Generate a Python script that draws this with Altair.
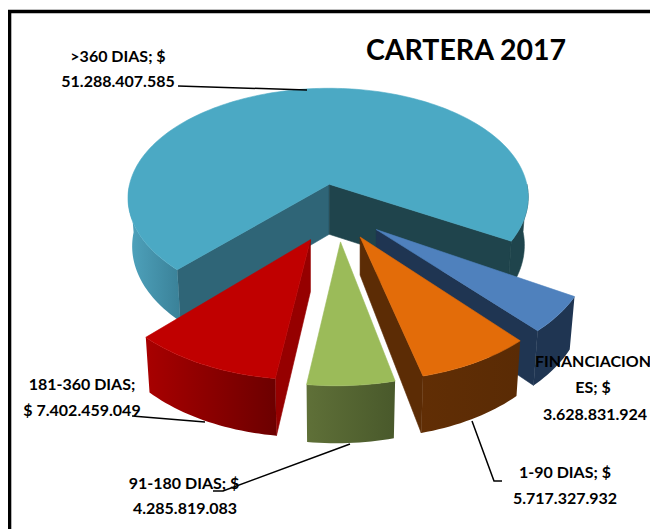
import math
import altair as alt
import pandas as pd

# ---- data ----
CATEGORIES = [">360 DIAS", "FINANCIACIONES", "1-90 DIAS", "91-180 DIAS", "181-360 DIAS"]
VALUES = [51288407585, 3628831924, 5717327932, 4285819083, 7402459049]
TITLE = "CARTERA 2017"
LABEL_LINES = [
    [">360 DIAS;  $", "51.288.407.585"],
    ["FINANCIACION", "ES;  $", "3.628.831.924"],
    ["1-90 DIAS;  $", "5.717.327.932"],
    ["91-180 DIAS;  $", "4.285.819.083"],
    ["181-360 DIAS;", "$ 7.402.459.049"],
]

# ---- layout and style ----
W, H_PAGE = 650, 529
FONT = "Lato"
START = 134.0           # where the first slice starts (degrees, clockwise on screen)
EXPLODE = 0.27
CX, CY, RX, RY, K, DEPTH = 337.0, 215.0, 205.0, 114.7, 0.116, 49.0
# small per-slice corrections of the perspective model (screen pixels)
RIM_SHIFT = [(-1, 0), (-3, 0), (-3, 0), (-4.5, 0), (-4, -2)]
APEX_SHIFT = [(0, -1), (-5, -5), (-4, -6), (0, -5), (-2, -4)]
APEX_DEPTH = [50, 50, 38, 50, 52]
TOP = ["#4ba9c4", "#4f81bd", "#e36c09", "#9bbb59", "#c00000"]
SIDE = ["#2f6577", "#1f3552", "#5c2c05", "#5f7038", "#960000"]
SIDE_R = ["#1f444c", "#1f3552", "#5c2c05", "#5f7038", "#960000"]
OUTER = [("#4fa3bd", "#3a8198"), ("#1f3552", "#1f3552"), ("#612e05", "#5a2b05"),
         ("#5f7038", "#49592b"), ("#a80000", "#6c0000")]
LABEL_POS = [
    [(118, 62), (118, 87)],
    [(593, 367), (593, 393), (595, 420)],
    [(565, 478), (565, 504)],
    [(184, 489), (185, 514)],
    [(82, 390), (82, 416)],
]
LEADERS = [
    [(178, 86), (307, 90)],
    [(472, 421), (494, 481), (502, 481)],
    [(213, 491), (223, 491), (350, 444)],
    [(132, 416), (205, 422)],
]
FRAME = [(9.5, 529), (9.5, 11.5), (650, 11.5)]

xs = alt.X("x:Q", scale=alt.Scale(domain=[8, W]), axis=None)
ys = alt.Y("y:Q", scale=alt.Scale(domain=[H_PAGE, 8]), axis=None)


def proj(u, v, low=False, shift=(0, 0)):
    w = 1 - K * v
    x = CX + RX * u / w
    y = CY + RY * v / w
    if low:
        x = CX + (x - CX) * 0.98
        y += DEPTH / w
    return x + shift[0], y + shift[1]


def poly(points, fill, stroke=None):
    pts = list(points) + [points[0]]
    df = pd.DataFrame({"x": [p[0] for p in pts], "y": [p[1] for p in pts], "i": range(len(pts))})
    kw = {"stroke": stroke, "strokeWidth": 0.6} if stroke else {"strokeOpacity": 0, "strokeWidth": 0}
    return alt.Chart(df).mark_line(fill=fill, **kw).encode(x=xs, y=ys, order="i:Q")


def path(points, width=1.5):
    df = pd.DataFrame({"x": [p[0] for p in points], "y": [p[1] for p in points], "i": range(len(points))})
    return alt.Chart(df).mark_line(color="#000000", strokeWidth=width).encode(x=xs, y=ys, order="i:Q")


def hgrad(a, b):
    return alt.Gradient(gradient="linear", x1=0, x2=1, y1=0, y2=0,
                        stops=[alt.GradientStop(color=a, offset=0), alt.GradientStop(color=b, offset=1)])


total = sum(VALUES)
layers = []
angle = START
spans = []
for v in VALUES:
    sweep = 360.0 * v / total
    spans.append((angle, angle + sweep))
    angle += sweep

for idx in range(5):
    t0, t1 = spans[idx]
    mid = math.radians((t0 + t1) / 2)
    ox, oy = EXPLODE * math.cos(mid), EXPLODE * math.sin(mid)
    rs = RIM_SHIFT[idx]

    def at(t):
        a = math.radians(t)
        return ox + math.cos(a), oy + math.sin(a)

    n = int((t1 - t0) / 1.5) + 2
    ts = [t0 + (t1 - t0) * j / (n - 1) for j in range(n)]
    A = proj(ox, oy, shift=APEX_SHIFT[idx])
    B = (A[0], A[1] + APEX_DEPTH[idx])
    top = [A] + [proj(*at(t), shift=rs) for t in ts]

    # radial walls, only those that face the viewer
    rim_mid = proj(*at((t0 + t1) / 2), shift=rs)
    for t, col in ((t0, SIDE[idx]), (t1, SIDE_R[idx])):
        end = proj(*at(t), shift=rs)
        ex, ey = end[0] - A[0], end[1] - A[1]
        edge_y = ey / ex * (rim_mid[0] - A[0]) if abs(ex) > 1e-6 else 0
        # the rim's middle must lie above the edge on screen for the wall to show
        if rim_mid[1] - A[1] < edge_y:
            layers.append(poly([A, end, proj(*at(t), True, rs), B], col, col))

    # outer wall: only the stretch of the rim that is on the near side
    visible = [t for t in ts if math.sin(math.radians(t)) > -0.03]
    if idx == 0:
        left = [t for t in ts if t < 270 and math.sin(math.radians(t)) > -0.03]
        right = [t for t in ts if t > 270 and math.sin(math.radians(t)) > -0.03]
        for part, fill, st in ((left, hgrad(*OUTER[0]), None), (right, SIDE_R[0], SIDE_R[0])):
            pts = [proj(*at(t), shift=rs) for t in part] + [proj(*at(t), True, rs) for t in reversed(part)]
            layers.append(poly(pts, fill, st))
    else:
        pts = [proj(*at(t), shift=rs) for t in visible] + [proj(*at(t), True, rs) for t in reversed(visible)]
        layers.append(poly(pts, hgrad(*OUTER[idx])))
    layers.append(poly(top, TOP[idx], TOP[idx]))

# frame and leader lines
layers.append(path(FRAME, 3.6))
for leader in LEADERS:
    layers.append(path(leader))

# labels
rows = []
for lines, positions in zip(LABEL_LINES, LABEL_POS):
    for line, (x, y) in zip(lines, positions):
        rows.append({"x": x, "y": y, "t": line})
labels = alt.Chart(pd.DataFrame(rows)).mark_text(
    font=FONT, fontSize=16, fontWeight="bold", color="#000000", align="center", baseline="alphabetic"
).encode(x=xs, y=ys, text="t:N")
layers.append(labels)
title = alt.Chart(pd.DataFrame({"x": [466], "y": [60], "t": [TITLE]})).mark_text(
    font=FONT, fontSize=28.5, fontWeight="bold", color="#000000", align="center", baseline="alphabetic"
).encode(x=xs, y=ys, text="t:N")
layers.append(title)

chart = alt.layer(*layers).properties(
    width=642, height=521, padding=0, background="#ffffff",
    autosize=alt.AutoSizeParams(type="none"),
).configure_view(stroke=None)

chart.save("out.html", embed_options={"renderer": "svg", "actions": False})
